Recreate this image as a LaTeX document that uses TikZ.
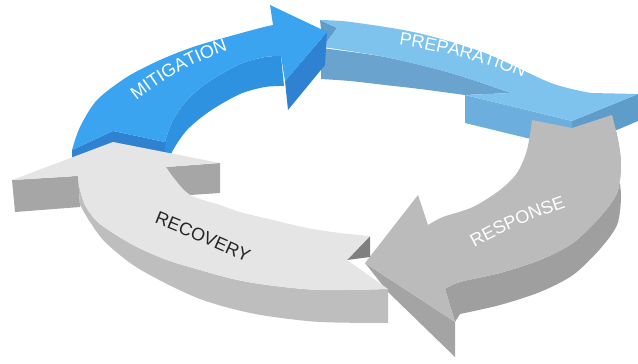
\documentclass[tikz,border=0pt]{standalone}
\usepackage{fontspec}
\setmainfont{Liberation Sans}
\usepackage{xcolor}
\usepackage{tikz}
\usetikzlibrary{decorations.text}

\definecolor{mitTop}{HTML}{3AA4F1}
\definecolor{mitWall}{HTML}{2F92E0}
\definecolor{mitSide}{HTML}{2F82D2}
\definecolor{prepTop}{HTML}{7DC3EE}
\definecolor{prepWall}{HTML}{6AA3CE}
\definecolor{prepSide}{HTML}{6CAEDD}
\definecolor{prepDark}{HTML}{5E9CC9}
\definecolor{respTop}{HTML}{BBBBBB}
\definecolor{respWall}{HTML}{9F9F9F}
\definecolor{respSide}{HTML}{A4A4A4}
\definecolor{recTop}{HTML}{E5E5E5}
\definecolor{recWall}{HTML}{BEBEBE}
\definecolor{recSide}{HTML}{A6A6A6}
\definecolor{recDark}{HTML}{7F7F7F}

\newcommand{\stagefont}{\fontsize{18}{18}\selectfont}

\begin{document}
\begin{tikzpicture}[
    x=1pt, y=-1pt,
    face/.style={fill=#1}
]
\useasboundingbox (0,0) rectangle (638,364);

% preparation (back right)
\fill[face=prepWall] plot[smooth] coordinates {(321,48) (385,57) (451,73) (511,93)}
    -- (465,95) -- plot[smooth] coordinates {(465,95) (420,89) (385,85) (350,81) (321,79)} -- cycle;
\fill[face=prepSide] (465,95) -- (572,121) -- (572,149) -- (465,123) -- cycle;
\fill[face=prepDark] (572,121) -- (638,94) -- (638,121) -- (572,149) -- cycle;
\fill[face=prepDark] (320,20) -- (337,28) -- (323,47) -- cycle;
\fill[face=prepTop] (320,20)
    -- plot[smooth] coordinates {(320,20) (351,22) (418,33) (485,53) (551,83) (591,93)}
    -- (638,94) -- (572,121) -- (465,95) -- (511,93)
    -- plot[smooth] coordinates {(511,93) (451,73) (385,57) (323,47)}
    -- (337,28) -- cycle;

% mitigation (back left)
\fill[face=mitWall] plot[smooth] coordinates {(165,142) (172,122) (187,100) (210,81) (240,64) (265,57) (281,56)}
    -- (284,86) -- plot[smooth] coordinates {(284,86) (265,87) (240,94) (210,111) (187,130) (172,152) (165,172)} -- cycle;
\fill[face=mitSide] (72,150) -- (113,131) -- (165,142) -- (165,172) -- (113,161) -- (72,180) -- cycle;
\fill[face=mitSide] (285,81) -- (327,32) -- (325,65) -- (288,110) -- cycle;
\fill[face=mitTop] (72,150)
    -- plot[smooth] coordinates {(72,150) (80,127) (97,100) (127,77) (160,60) (193,47) (227,37) (260,28) (273,25)}
    -- (270,5) -- (327,32) -- (285,81) -- (281,56)
    -- plot[smooth] coordinates {(281,56) (265,57) (240,64) (210,81) (187,100) (172,122) (165,142)}
    -- (113,131) -- cycle;

% response (front right)
\fill[face=respWall] plot[smooth] coordinates {(612,115) (618,140) (621,165) (617,193) (600,217) (573,243) (540,260) (500,273) (460,282) (445,289)}
    -- (455,322)
    -- plot[smooth] coordinates {(460,314) (500,305) (540,292) (573,275) (600,249) (617,225) (621,197) (618,172) (612,147)} -- cycle;
\fill[face=respSide] (365,263) -- (455,322) -- (455,357) -- (388,292) -- cycle;
\fill[face=respTop] (532,120) -- (572,128) -- (612,115)
    -- plot[smooth] coordinates {(612,115) (618,140) (621,165) (617,193) (600,217) (573,243) (540,260) (500,273) (460,282) (445,289)}
    -- (455,322) -- (365,263) -- (418,195) -- (428,225)
    -- plot[smooth] coordinates {(428,225) (443,217) (473,207) (500,190) (517,173) (527,150) (532,120)}
    -- cycle;

% recovery (front left)
\fill[face=recWall] plot[smooth] coordinates {(78,176) (80,190) (86,207) (100,224) (133,245) (167,260) (200,270) (233,279) (267,285) (320,290) (388,289)}
    -- (388,323)
    -- plot[smooth] coordinates {(388,323) (320,322) (267,316) (233,309) (200,299) (167,284) (133,265) (105,242) (90,222) (80,205)} -- cycle;
\fill[face=recSide] (12,180) -- (78,176) -- (80,207) -- (15,212) -- cycle;
\fill[face=recSide] (166,167) -- (220,163) -- (220,193) -- (190,195) .. controls (178,186) .. (166,167) -- cycle;
\fill[face=recDark] (347,260) -- (370,236) -- (370,257) -- cycle;
\fill[face=recTop] (12,180) -- (113,142) -- (220,163) -- (166,167)
    -- plot[smooth] coordinates {(166,167) (173,177) (190,195) (220,205) (240,212) (273,220) (307,228) (340,233) (370,236)}
    -- (347,260) -- (388,289)
    -- plot[smooth] coordinates {(388,289) (320,290) (267,285) (233,279) (200,270) (167,260) (133,245) (100,224) (86,207) (80,190) (78,176)}
    -- cycle;

% stage names
\path[decorate, decoration={text along path, text align=center, text color=white,
    text={|\stagefont|MITIGATION}}]
    (130,106) .. controls (158,82) and (195,60) .. (236,48);
\path[decorate, decoration={text along path, text align=center, text color=white,
    text={|\stagefont|PREPARATION}}]
    (395,44) .. controls (438,51) and (484,61) .. (527,79);
\path[decorate, decoration={text along path, text align=center, text color=white,
    text={|\stagefont|RESPONSE}}]
    (468,251) .. controls (502,231) and (538,216) .. (573,205);
\path[decorate, decoration={text along path, text align=center, text color=black!85,
    text={|\stagefont|RECOVERY}}]
    (149,221) .. controls (183,234) and (216,249) .. (252,265);
\end{tikzpicture}
\end{document}
